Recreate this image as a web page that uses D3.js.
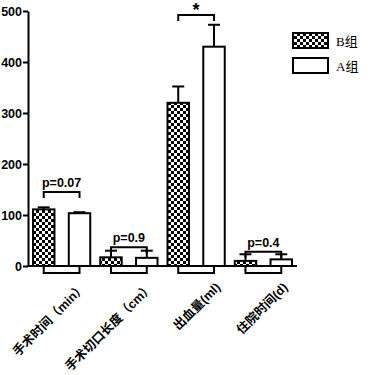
<!DOCTYPE html>
<html>
<head>
<meta charset="utf-8">
<script src="https://cdn.jsdelivr.net/npm/d3@7"></script>
<style>
  body { margin: 0; background: #fff; }
  svg { display: block; }
</style>
</head>
<body>
<div id="chart"></div>
<script>
// === Data ===
const categories = ['手术时间（min）', '手术切口长度（cm）', '出血量(ml)', '住院时间(d)'];
const groups = ['B组', 'A组'];
const meanB = [111, 17, 320, 10];
const sdB = [4, 13, 32, 13];
const meanA = [103.5, 16, 430, 13];
const sdA = [2, 14, 43, 10];
const pLabels = ['p=0.07', 'p=0.9', '*', 'p=0.4'];
const bracketY = [145, 37, 492, 28];
const yTicks = [0, 100, 200, 300, 400, 500];

const W = 378, H = 375;
const margin = {top: 11, left: 28, right: 81, bottom: 109};

const svg = d3.select('#chart').append('svg').attr('width', W).attr('height', H);

// checkerboard pattern
const pat = svg.append('defs').append('pattern')
	.attr('id', 'checker').attr('patternUnits', 'userSpaceOnUse')
	.attr('width', 6).attr('height', 6);
pat.append('rect').attr('width', 6).attr('height', 6).attr('fill', '#fff');
pat.append('rect').attr('width', 3).attr('height', 3).attr('fill', '#000');
pat.append('rect').attr('x', 3).attr('y', 3).attr('width', 3).attr('height', 3).attr('fill', '#000');

const x = d3.scaleBand().domain(categories).range([margin.left, W - margin.right]);
const inner = d3.scaleBand().domain(groups).range([5, x.bandwidth() - 5]).paddingInner(0.4);
const y = d3.scaleLinear().domain([0, 500]).range([H - margin.bottom, margin.top]);

const rows = categories.map((c, i) => ({
	cat: c,
	bars: [
		{g: 'B组', mean: meanB[i], sd: sdB[i]},
		{g: 'A组', mean: meanA[i], sd: sdA[i]}
	],
	p: pLabels[i],
	by: bracketY[i]
}));

const cx = (c, g) => x(c) + inner(g) + inner.bandwidth() / 2;

// white boxes under the axis
svg.append('g').selectAll('rect').data(rows).join('rect')
	.attr('x', d => cx(d.cat, 'B组'))
	.attr('y', y(0))
	.attr('width', d => cx(d.cat, 'A组') - cx(d.cat, 'B组'))
	.attr('height', 7)
	.attr('fill', '#fff').attr('stroke', '#000').attr('stroke-width', 2);

// error bars (upper only)
const eg = svg.append('g').attr('stroke', '#000').attr('stroke-width', 2);
rows.forEach(r => r.bars.forEach(b => {
	const xc = cx(r.cat, b.g);
	eg.append('line').attr('x1', xc).attr('x2', xc)
		.attr('y1', y(b.mean)).attr('y2', y(b.mean + b.sd));
	eg.append('line').attr('x1', xc - 6).attr('x2', xc + 6)
		.attr('y1', y(b.mean + b.sd)).attr('y2', y(b.mean + b.sd));
}));

// bars
const bg = svg.append('g');
rows.forEach(r => {
	bg.selectAll(null).data(r.bars).join('rect')
		.attr('x', d => x(r.cat) + inner(d.g))
		.attr('y', d => y(d.mean))
		.attr('width', inner.bandwidth())
		.attr('height', d => y(0) - y(d.mean))
		.attr('fill', d => d.g === 'B组' ? 'url(#checker)' : '#fff')
		.attr('stroke', '#000').attr('stroke-width', 2);
});

// brackets + p labels
const brg = svg.append('g');
rows.forEach(r => {
	const x1 = cx(r.cat, 'B组'), x2 = cx(r.cat, 'A组'), yy = y(r.by);
	brg.append('path')
		.attr('d', `M${x1},${yy + 6}V${yy}H${x2}V${yy + 6}`)
		.attr('fill', 'none').attr('stroke', '#000').attr('stroke-width', 2);
	brg.append('text')
		.attr('x', (x1 + x2) / 2)
		.attr('y', r.p === '*' ? yy + 1 : yy - 5)
		.attr('text-anchor', 'middle')
		.style('font-family', 'Liberation Sans, Arial, sans-serif')
		.style('font-weight', 'bold')
		.style('font-size', r.p === '*' ? '18px' : '12.5px')
		.text(r.p);
});

// y axis
const yAxis = svg.append('g').attr('transform', `translate(${margin.left},0)`)
	.call(d3.axisLeft(y).tickValues(yTicks).tickSize(5).tickSizeOuter(0));
yAxis.select('.domain').attr('stroke-width', 2);
yAxis.selectAll('.tick line').attr('stroke-width', 2);
yAxis.selectAll('.tick text')
	.attr('x', -6)
	.style('font-family', 'Liberation Sans, Arial, sans-serif')
	.style('font-weight', 'bold').style('font-size', '12.5px').attr('fill', '#000');

// x axis line
svg.append('line')
	.attr('x1', margin.left - 1).attr('x2', W - margin.right)
	.attr('y1', y(0)).attr('y2', y(0))
	.attr('stroke', '#000').attr('stroke-width', 2);

// x labels
svg.append('g').selectAll('text').data(categories).join('text')
	.attr('transform', d => `translate(${x(d) + x.bandwidth() / 2 + 22},${y(0) + 19}) rotate(-45)`)
	.attr('text-anchor', 'end')
	.attr('dy', '0.35em')
	.style('font-family', 'Liberation Sans, "Noto Sans CJK SC", sans-serif')
	.style('font-weight', 'bold').style('font-size', '12.5px')
	.text(d => d);

// legend
const lg = svg.append('g');
groups.forEach((g, i) => {
	lg.append('rect')
		.attr('x', 293).attr('y', 33 + i * 25).attr('width', 35).attr('height', 15)
		.attr('fill', g === 'B组' ? 'url(#checker)' : '#fff')
		.attr('stroke', '#000').attr('stroke-width', 2);
	lg.append('text')
		.attr('x', 336).attr('y', 41 + i * 25).attr('dy', '0.35em')
		.style('font-family', 'Liberation Serif, "Noto Sans CJK SC", serif')
		.style('font-size', '13px')
		.text(g);
});
</script>
</body>
</html>
